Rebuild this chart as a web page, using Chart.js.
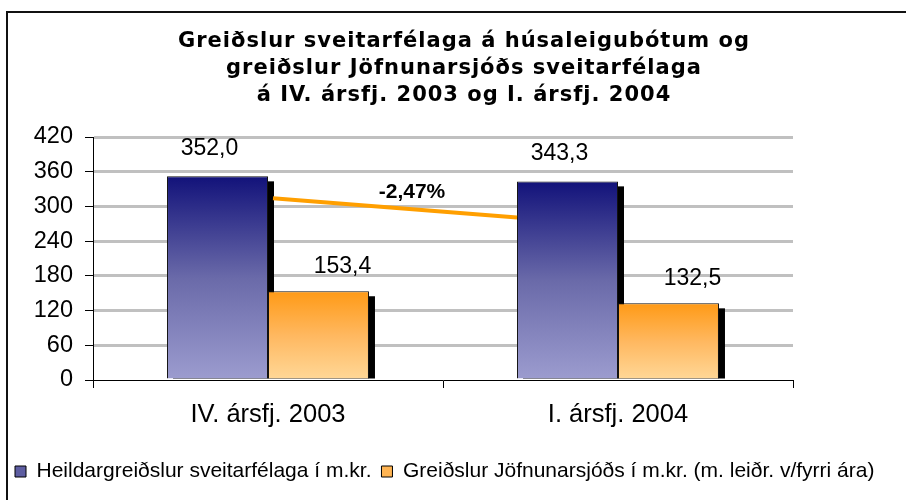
<!DOCTYPE html>
<html>
<head>
<meta charset="utf-8">
<script src="https://cdn.jsdelivr.net/npm/chart.js@4/dist/chart.umd.min.js"></script>
<style>
  html, body { margin: 0; padding: 0; background: #fff; }
  #wrap { width: 906px; height: 500px; }
</style>
</head>
<body>
<div id="wrap"><canvas id="chart" width="906" height="500"></canvas></div>
<script>
const categories = ["IV. ársfj. 2003", "I. ársfj. 2004"];
const seriesNames = [
    "Heildargreiðslur sveitarfélaga í m.kr.",
    "Greiðslur Jöfnunarsjóðs í m.kr. (m. leiðr. v/fyrri ára)"
];
const heildar = [352.0, 343.3];
const jofnun = [153.4, 132.5];
const yTicks = [0, 60, 120, 180, 240, 300, 360, 420];
const titleLines = [
    "Greiðslur sveitarfélaga á húsaleigubótum og",
    "greiðslur Jöfnunarsjóðs sveitarfélaga",
    "á IV. ársfj. 2003 og I. ársfj. 2004"
];
const changeLabel = "-2,47%";
const trendLine = [314, 281];

const blueStops = ["#12127a", "#6a6aa9", "#9c9ccf"];
const orangeStops = ["#ff9a16", "#ffb860", "#ffd898"];
const legendColors = ["#5d5da1", "#ffb452"];

function barGradient(context, stops) {
    const chart = context.chart;
    const { ctx, chartArea, scales } = chart;
    if (!chartArea || context.raw === undefined) return stops[1];
    const top = scales.y.getPixelForValue(context.raw);
    const bottom = scales.y.getPixelForValue(0);
    const g = ctx.createLinearGradient(0, top, 0, bottom);
    g.addColorStop(0, stops[0]);
    g.addColorStop(0.5, stops[1]);
    g.addColorStop(1, stops[2]);
    return g;
}

function fmt(v) {
    return v.toFixed(1).replace(".", ",");
}

// white background + frame
const framePlugin = {
    id: "frame",
    beforeDraw(chart) {
        const ctx = chart.ctx;
        ctx.save();
        ctx.fillStyle = "#fff";
        ctx.fillRect(0, 0, chart.width, chart.height);
        ctx.strokeStyle = "#111";
        ctx.lineWidth = 2;
        ctx.beginPath();
        ctx.moveTo(7, chart.height);
        ctx.lineTo(7, 12);
        ctx.lineTo(chart.width, 12);
        ctx.stroke();
        ctx.restore();
    }
};

const titlePlugin = {
    id: "titleLines",
    afterDraw(chart) {
        const ctx = chart.ctx;
        ctx.save();
        ctx.fillStyle = "#000";
        ctx.font = "bold 21px 'DejaVu Sans', Verdana, sans-serif";
        ctx.letterSpacing = "1px";
        ctx.textAlign = "center";
        ctx.textBaseline = "middle";
        titleLines.forEach((line, i) => ctx.fillText(line, 464, 42 + i * 27));
        ctx.restore();
    }
};

// black drop shadow behind every bar
const shadowPlugin = {
    id: "shadow",
    beforeDatasetsDraw(chart) {
        const ctx = chart.ctx;
        ctx.save();
        ctx.fillStyle = "#000";
        chart.data.datasets.forEach((ds, i) => {
            chart.getDatasetMeta(i).data.forEach(bar => {
                const p = bar.getProps(["x", "y", "base", "width"], true);
                ctx.fillRect(p.x - p.width / 2 + 6, p.y + 5, p.width, p.base - p.y - 5);
            });
        });
        ctx.restore();
    }
};

const labelPlugin = {
    id: "valueLabels",
    afterDatasetsDraw(chart) {
        const ctx = chart.ctx;
        ctx.save();
        ctx.fillStyle = "#000";
        ctx.font = "23px 'Liberation Sans', Arial, sans-serif";
        ctx.textAlign = "center";
        ctx.textBaseline = "middle";
        const shifts = [[-8, -28], [24, -25]];
        chart.data.datasets.forEach((ds, i) => {
            chart.getDatasetMeta(i).data.forEach((bar, j) => {
                ctx.fillText(fmt(ds.data[j]), bar.x + shifts[i][0], bar.y + shifts[i][1]);
            });
        });

        // change line between the two totals
        const bars = chart.getDatasetMeta(0).data;
        const y = chart.scales.y;
        const x0 = bars[0].x + bars[0].width / 2 + 5;
        const x1 = bars[1].x - bars[1].width / 2;
        const y0 = y.getPixelForValue(trendLine[0]);
        const y1 = y.getPixelForValue(trendLine[1]);
        ctx.strokeStyle = "#ff9f00";
        ctx.lineWidth = 4;
        ctx.beginPath();
        ctx.moveTo(x0, y0);
        ctx.lineTo(x1, y1);
        ctx.stroke();
        ctx.font = "bold 21px 'Liberation Sans', Arial, sans-serif";
        ctx.fillText(changeLabel, (x0 + x1) / 2 + 17, (y0 + y1) / 2 - 16);
        ctx.restore();
    }
};

const ctx = document.getElementById("chart").getContext("2d");
new Chart(ctx, {
    type: "bar",
    data: {
        labels: categories,
        datasets: [{
            label: seriesNames[0],
            data: heildar,
            backgroundColor: c => barGradient(c, blueStops),
            borderColor: "#111",
            borderWidth: 1
        }, {
            label: seriesNames[1],
            data: jofnun,
            backgroundColor: c => barGradient(c, orangeStops),
            borderColor: "#111",
            borderWidth: 1
        }]
    },
    options: {
        responsive: false,
        animation: false,
        layout: { padding: { left: 5, right: 5, top: 137, bottom: 8 } },
        datasets: { bar: { categoryPercentage: 0.577, barPercentage: 1.0 } },
        plugins: {
            title: { display: false },
            tooltip: { enabled: false },
            legend: {
                position: "bottom",
                align: "start",
                labels: {
                    boxWidth: 11,
                    boxHeight: 11,
                    padding: 10,
                    color: "#000",
                    font: { family: "'Liberation Sans', Arial, sans-serif", size: 21 },
                    generateLabels: () => seriesNames.map((n, i) => ({
                        text: n,
                        fillStyle: legendColors[i],
                        strokeStyle: "#000",
                        lineWidth: 1,
                        datasetIndex: i,
                        hidden: false
                    }))
                }
            }
        },
        scales: {
            x: {
                grid: { drawOnChartArea: false, color: "#000", tickLength: 8, offset: true },
                border: { color: "#000", width: 1 },
                ticks: {
                    color: "#000",
                    padding: 12,
                    font: { family: "'Liberation Sans', Arial, sans-serif", size: 25.5 }
                },
                afterFit: s => { s.height = 71; }
            },
            y: {
                min: 0,
                max: 420,
                afterBuildTicks: s => { s.ticks = yTicks.map(v => ({ value: v })); },
                afterFit: s => { s.width = 88; },
                grid: {
                    color: c => (c.tick && c.tick.value === 0) ? "rgba(0,0,0,0)" : "#c0c0c0",
                    lineWidth: 3,
                    tickColor: "#000",
                    tickWidth: 1,
                    tickLength: 8
                },
                border: { color: "#000", width: 1 },
                ticks: {
                    color: "#000",
                    padding: 12,
                    autoSkip: false,
                    font: { family: "'Liberation Sans', Arial, sans-serif", size: 23.5 }
                }
            },
            y2: {
                position: "right",
                grid: { display: false },
                border: { display: false },
                ticks: { display: false },
                afterFit: s => { s.width = 108; }
            }
        }
    },
    plugins: [framePlugin, shadowPlugin, labelPlugin, titlePlugin]
});
</script>
</body>
</html>
